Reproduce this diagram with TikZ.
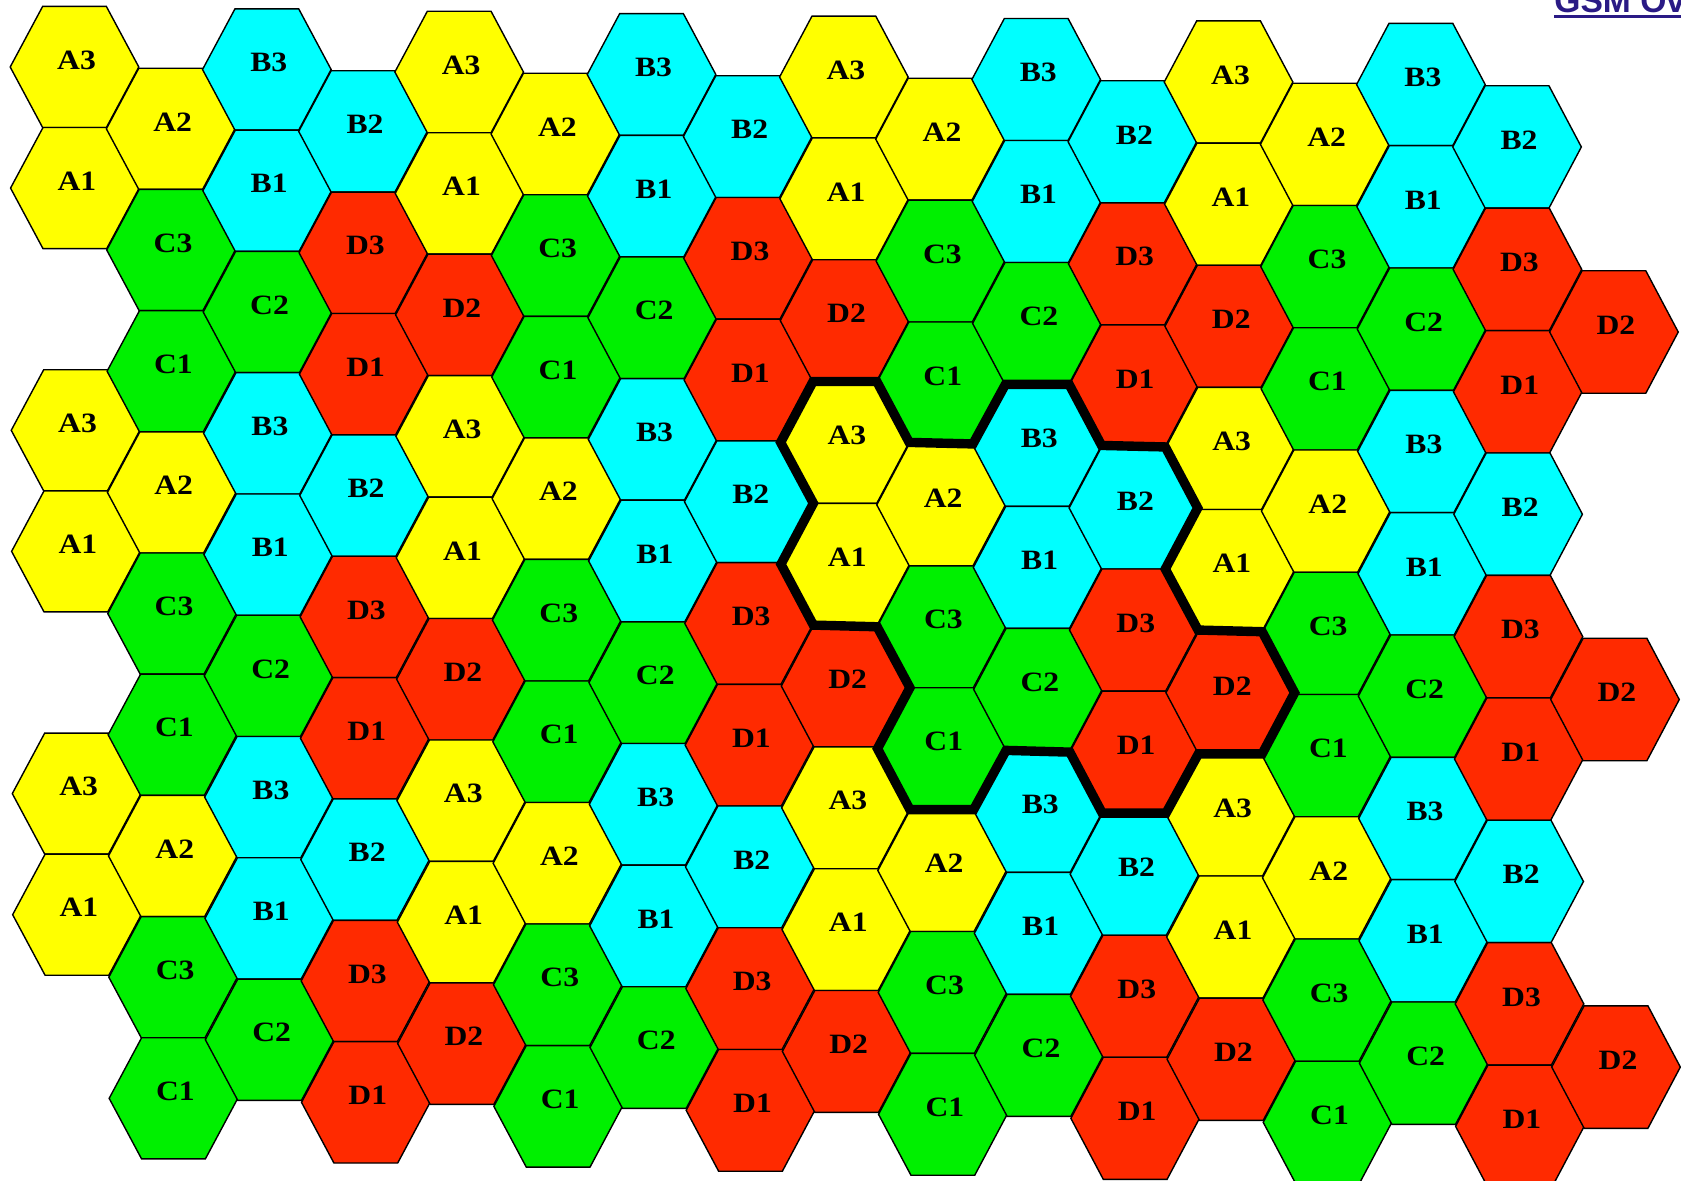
\documentclass[tikz,border=0pt]{standalone}
\usepackage{fontspec}
\setmainfont{Liberation Serif}
\newfontfamily\titlefont{Liberation Sans}
\definecolor{cA}{HTML}{FFFF00}
\definecolor{cB}{HTML}{00FFFF}
\definecolor{cC}{HTML}{00F000}
\definecolor{cD}{HTML}{FF2A00}
\definecolor{titleblue}{HTML}{2A1A85}
\newcommand\hexsetup[2]{%
  \ifcase#1\relax
    \ifcase#2\relax \def\hexlab{A3}\def\hexcol{cA}\or \def\hexlab{A1}\def\hexcol{cA}\or \def\hexlab{D2}\def\hexcol{cD}\fi
  \or
    \ifcase#2\relax \def\hexlab{A2}\def\hexcol{cA}\or \def\hexlab{C3}\def\hexcol{cC}\or \def\hexlab{C1}\def\hexcol{cC}\fi
  \or
    \ifcase#2\relax \def\hexlab{B3}\def\hexcol{cB}\or \def\hexlab{B1}\def\hexcol{cB}\or \def\hexlab{C2}\def\hexcol{cC}\fi
  \or
    \ifcase#2\relax \def\hexlab{B2}\def\hexcol{cB}\or \def\hexlab{D3}\def\hexcol{cD}\or \def\hexlab{D1}\def\hexcol{cD}\fi
  \fi}
\begin{document}
\begin{tikzpicture}[x=0.5pt,y=-0.5pt,
  hexcell/.style={draw=black, line width=0.7pt, line join=miter},
  hexlabel/.style={font=\bfseries\fontsize{14pt}{16pt}\selectfont, inner sep=0pt, xscale=1.13},
  outline/.style={draw=black, line width=4.7pt, line join=miter},
  titletext/.style={anchor=base west, inner sep=0pt, font=\titlefont\bfseries\fontsize{16.8pt}{19pt}\selectfont, text=titleblue},
  titleline/.style={draw=titleblue, line width=1.65pt}]
\useasboundingbox (0,0) rectangle (1681,1181);
\clip (0,0) rectangle (1681,1181);
\foreach \cc in {0,...,16}{
  \foreach \rr in {0,...,8}{
    \pgfmathtruncatemacro\hm{mod(\cc,4)}
    \pgfmathtruncatemacro\hk{mod(\rr,3)}
    \pgfmathtruncatemacro\hexskip{((\cc==0) && (\hk==2)) || ((\cc==16) && (\hk!=2)) ? 1 : 0}
    \ifnum\hexskip=0
      \hexsetup{\hm}{\hk}
      \pgfmathsetmacro\rs{121.1+0.088*\cc}
      \pgfmathsetmacro\hh{\rs/2}
      \pgfmathsetmacro\hx{74.5+96.17*\cc+0.35*\rr}
      \pgfmathsetmacro\hy{67+1.25*\cc+(\rr+0.5*mod(\cc,2))*\rs}
      \coordinate (h\cc-\rr-0) at (\hx+64.3,\hy);
      \coordinate (h\cc-\rr-1) at (\hx+31.87,\hy-\hh);
      \coordinate (h\cc-\rr-2) at (\hx-31.87,\hy-\hh);
      \coordinate (h\cc-\rr-3) at (\hx-64.3,\hy);
      \coordinate (h\cc-\rr-4) at (\hx-31.87,\hy+\hh);
      \coordinate (h\cc-\rr-5) at (\hx+31.87,\hy+\hh);
      \path[hexcell, fill=\hexcol] (h\cc-\rr-0) -- (h\cc-\rr-1) -- (h\cc-\rr-2) -- (h\cc-\rr-3) -- (h\cc-\rr-4) -- (h\cc-\rr-5) -- cycle;
      \node[hexlabel] (n\cc-\rr) at (\hx+2,\hy-7) {\hexlab};
    \fi
  }
}
\draw[outline] (h8-3-2) -- (h8-3-1) -- (h8-3-0) -- (h9-3-1) -- (h10-3-2) -- (h10-3-1)
  -- (h10-3-0) -- (h11-3-1) -- (h11-3-0) -- (h11-3-5) -- (h11-4-0) -- (h12-5-1)
  -- (h12-5-0) -- (h12-5-5) -- (h12-5-4) -- (h11-5-5) -- (h11-5-4) -- (h11-5-3)
  -- (h10-5-4) -- (h9-5-5) -- (h9-5-4) -- (h9-5-3) -- (h9-5-2) -- (h9-4-3)
  -- (h8-4-4) -- (h8-4-3) -- (h8-4-2) -- (h8-3-3) -- cycle;
\node[titletext] (title) at (1554,13) {GSM Ov};
\draw[titleline] ([yshift=-1.85pt]title.base west) -- ([yshift=-1.85pt]title.base east);
\end{tikzpicture}
\end{document}
